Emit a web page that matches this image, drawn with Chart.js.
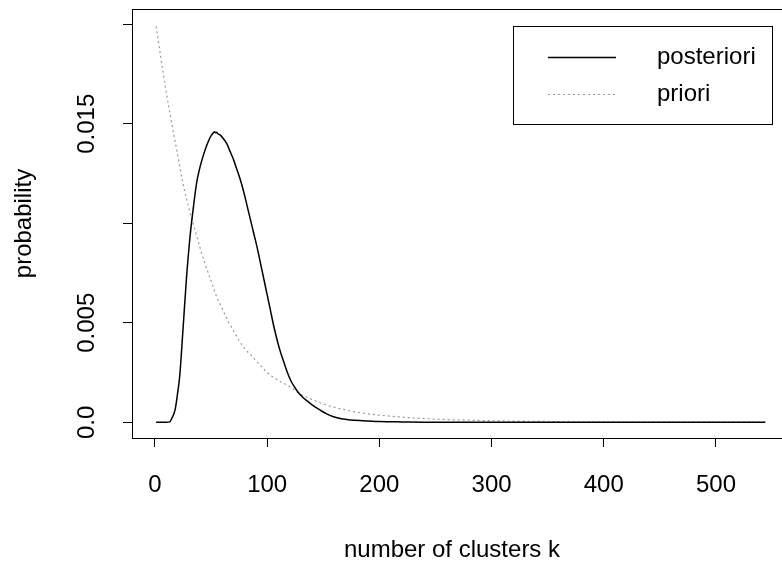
<!DOCTYPE html>
<html>
<head>
<meta charset="utf-8">
<script src="https://cdn.jsdelivr.net/npm/chart.js@4.4.1/dist/chart.umd.min.js"></script>
<style>
  html, body { margin: 0; padding: 0; background: #fff; overflow: hidden; }
  #wrap { width: 782px; height: 567px; overflow: hidden; }
</style>
</head>
<body>
<div id="wrap"><canvas id="plot" width="800" height="567"></canvas></div>
<script>
// posterior of the number of clusters
const postK = [1, 5, 10, 13, 15, 18, 20, 22, 25, 28, 31, 34, 37, 40, 43, 46, 49, 52, 53, 54, 55, 56, 58,
  61, 64, 67, 70, 73, 76, 79, 82, 85, 88, 91, 94, 97, 100, 103, 106, 109, 112, 115, 118, 121,
  124, 127, 131, 135, 140, 147, 153, 159, 166, 174, 185, 200, 220, 250, 300, 350, 400, 450, 500, 544];
const postP = [0, 0, 0, 0.00002, 0.0002, 0.00065, 0.0014, 0.0023, 0.0047, 0.0072, 0.0092, 0.0107, 0.0120,
  0.0128, 0.0134, 0.0139, 0.0143, 0.01455, 0.0146, 0.01455, 0.01457, 0.0145, 0.01444,
  0.01425, 0.0140, 0.0136, 0.0132, 0.0127, 0.0122, 0.0116, 0.0109, 0.0102, 0.0095, 0.0088,
  0.0080, 0.0072, 0.0064, 0.0056, 0.0048, 0.0041, 0.0035, 0.0030, 0.0025, 0.0021,
  0.0018, 0.00155, 0.0013, 0.0011, 0.00088, 0.00062, 0.00042, 0.00028, 0.00018, 0.00012,
  0.00008, 0.00004, 0.00002, 0, 0, 0, 0, 0, 0, 0];

// prior
const priorK = [1, 5, 10, 15, 20, 25, 30, 35, 40, 45, 50, 55, 60, 65, 70, 75, 80, 85, 90, 95, 100,
  110, 120, 130, 140, 150, 160, 170, 185, 200, 225, 250, 275, 300, 350, 400, 450, 500, 544];
const priorP = [0.0199, 0.0184, 0.0166, 0.0150, 0.0135, 0.0120, 0.0108, 0.0098, 0.0088, 0.0079,
  0.0071, 0.0063, 0.0057, 0.0051, 0.0046, 0.0041, 0.0037, 0.0034, 0.0031, 0.0028, 0.0025,
  0.0021, 0.0018, 0.0014, 0.00115, 0.00092, 0.00075, 0.00062, 0.00046, 0.00036, 0.00024,
  0.00016, 0.00011, 0.00008, 0.00004, 0.00002, 0.00001, 0.000007, 0.000005];

const xTicks = [0, 100, 200, 300, 400, 500];
const yTicks = [0, 0.005, 0.010, 0.015, 0.020];
const yTickLabels = ["0.0", "0.005", "", "0.015", ""];

const FONT = '"Liberation Sans", Arial, sans-serif';

function pairs(xs, ys) {
  return xs.map((x, i) => ({ x: x, y: ys[i] }));
}

// box, rotated y labels, x title and legend, R style
const rStyle = {
  id: 'rStyle',
  afterDraw(chart) {
    const ctx = chart.ctx;
    const a = chart.chartArea;
    const ys = chart.scales.y;
    ctx.save();
    ctx.strokeStyle = '#000';
    ctx.lineWidth = 1;
    ctx.strokeRect(Math.round(a.left) + 0.5, Math.round(a.top) + 0.5,
      Math.round(a.right - a.left), Math.round(a.bottom - a.top));

    ctx.fillStyle = '#000';
    ctx.font = '24px ' + FONT;
    ctx.textAlign = 'center';
    ctx.textBaseline = 'alphabetic';
    yTicks.forEach((v, i) => {
      if (!yTickLabels[i]) return;
      ctx.save();
      ctx.translate(94, ys.getPixelForValue(v));
      ctx.rotate(-Math.PI / 2);
      ctx.fillText(yTickLabels[i], 0, 0);
      ctx.restore();
    });

    ctx.fillText('number of clusters k', 452, 557);

    // legend
    ctx.strokeRect(513.5, 26.5, 259, 98);
    const ds = chart.data.datasets;
    const rows = [57, 94];
    ds.forEach((d, i) => {
      ctx.beginPath();
      ctx.strokeStyle = d.borderColor;
      ctx.lineWidth = d.borderWidth;
      ctx.setLineDash(d.borderDash || []);
      ctx.moveTo(548, rows[i] + 0.5);
      ctx.lineTo(616, rows[i] + 0.5);
      ctx.stroke();
      ctx.setLineDash([]);
      ctx.textAlign = 'left';
      ctx.textBaseline = 'middle';
      ctx.fillText(d.label, 657, rows[i]);
    });
    ctx.restore();
  }
};

new Chart(document.getElementById('plot'), {
  type: 'line',
  data: {
    datasets: [
      {
        label: 'posteriori',
        data: pairs(postK, postP),
        borderColor: '#000',
        borderWidth: 1.5,
        pointRadius: 0,
        cubicInterpolationMode: 'monotone'
      },
      {
        label: 'priori',
        data: pairs(priorK, priorP),
        borderColor: '#999',
        borderWidth: 1.2,
        borderDash: [2, 3],
        pointRadius: 0,
        cubicInterpolationMode: 'monotone'
      }
    ]
  },
  options: {
    responsive: false,
    animation: false,
    events: [],
    devicePixelRatio: 1,
    layout: { padding: { left: 0, top: 9, right: 10, bottom: 0 } },
    plugins: { legend: { display: false }, tooltip: { enabled: false } },
    scales: {
      x: {
        type: 'linear',
        min: -20.5,
        max: 566,
        afterBuildTicks: s => { s.ticks = xTicks.map(v => ({ value: v })); },
        afterFit: s => { s.height = 129; },
        grid: { display: true, drawOnChartArea: false, drawTicks: true, tickLength: 9, color: '#000' },
        border: { display: true, color: '#000' },
        ticks: { autoSkip: false, maxRotation: 0, padding: 24, color: '#000',
          font: { family: FONT, size: 24 }, callback: v => String(v) }
      },
      y: {
        type: 'linear',
        min: -0.000789,
        max: 0.020769,
        afterBuildTicks: s => { s.ticks = yTicks.map(v => ({ value: v })); },
        afterFit: s => { s.width = 132; },
        grid: { display: true, drawOnChartArea: false, drawTicks: true, tickLength: 9, color: '#000' },
        border: { display: true, color: '#000' },
        ticks: { display: false },
        title: { display: true, text: 'probability', color: '#000',
          font: { family: FONT, size: 24 }, padding: { top: 10 } }
      }
    }
  },
  plugins: [rStyle]
});
</script>
</body>
</html>
